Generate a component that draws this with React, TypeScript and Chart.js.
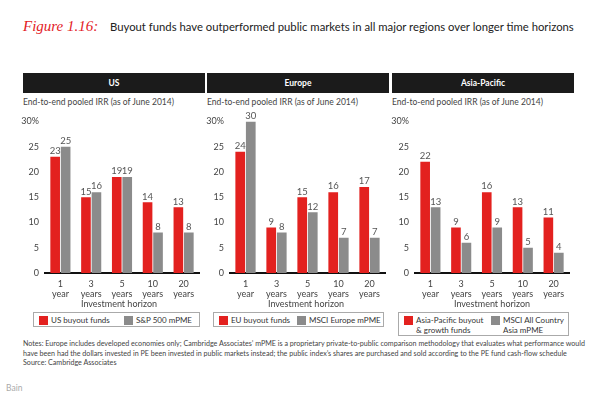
import React, { useEffect, useRef } from "react";
import { Chart, registerables } from "chart.js";

Chart.register(...registerables);

const horizons: string[][] = [["1", "year"], ["3", "years"], ["5", "years"], ["10", "years"], ["20", "years"]];
const yTicks = [0, 5, 10, 15, 20, 25, 30];

const usBuyout = [23, 15, 19, 14, 13];
const usPme = [25, 16, 19, 8, 8];
const euBuyout = [24, 9, 15, 16, 17];
const euPme = [30, 8, 12, 7, 7];
const apBuyout = [22, 9, 16, 13, 11];
const apPme = [13, 6, 9, 5, 4];

const regions = ["US", "Europe", "Asia-Pacific"];
const xAxisTitle = "Investment horizon";
const buyoutLabels = ["US buyout funds", "EU buyout funds", "Asia-Pacific buyout & growth funds"];
const pmeLabels = ["S&P 500 mPME", "MSCI Europe mPME", "MSCI All Country Asia mPME"];

const RED = "#e3211f";
const GRAY = "#8b8b8b";
const FONT = "Lato, 'Open Sans', sans-serif";

const valueLabels = {
  id: "valueLabels",
  afterDatasetsDraw(chart: any) {
    const ctx = chart.ctx;
    ctx.save();
    ctx.font = `9.5px ${FONT}`;
    ctx.fillStyle = "#555";
    ctx.textAlign = "center";
    ctx.textBaseline = "bottom";
    chart.data.datasets.forEach((ds: any, i: number) => {
      const meta = chart.getDatasetMeta(i);
      meta.data.forEach((bar: any, j: number) => {
        ctx.fillText(String(ds.data[j]), bar.x, bar.y - 1);
      });
    });
    ctx.restore();
  },
};

function Panel({ left, width, buyout, pme }: { left: number; width: number; buyout: number[]; pme: number[] }) {
  const ref = useRef<HTMLCanvasElement>(null);
  useEffect(() => {
    const chart = new Chart(ref.current!, {
      type: "bar",
      data: {
        labels: horizons,
        datasets: [
          { data: buyout, backgroundColor: RED, barPercentage: 0.92, categoryPercentage: 0.68 },
          { data: pme, backgroundColor: GRAY, barPercentage: 0.92, categoryPercentage: 0.68 },
        ],
      },
      options: {
        animation: false,
        responsive: false,
        maintainAspectRatio: false,
        layout: { padding: { top: 11, right: 3, bottom: 0, left: 0 } },
        plugins: { legend: { display: false }, tooltip: { enabled: false } },
        scales: {
          x: {
            grid: { display: false, drawTicks: false },
            border: { display: true, color: "#111", width: 2 },
            ticks: { color: "#444", font: { family: FONT, size: 9, lineHeight: 1.1 }, padding: 6, maxRotation: 0 },
            afterFit: (s: any) => { s.height = 28; },
          },
          y: {
            min: 0,
            max: 30,
            afterBuildTicks: (s: any) => { s.ticks = yTicks.map((v) => ({ value: v })); },
            grid: { display: false, drawTicks: false },
            border: { display: false },
            ticks: {
              color: "#444",
              font: { family: FONT, size: 9 },
              padding: 6,
              callback: (v: any) => (v === 30 ? "30%" : String(v)),
            },
            afterFit: (s: any) => { s.width = 25; },
          },
        },
      },
      plugins: [valueLabels],
    });
    return () => chart.destroy();
  }, []);
  return (
    <canvas
      ref={ref}
      width={width}
      height={191}
      style={{ position: "absolute", left, top: 110, width, height: 191 }}
    />
  );
}

const abs = (s: React.CSSProperties): React.CSSProperties => ({ position: "absolute", ...s });

export default function App() {
  useEffect(() => {
    document.body.style.margin = "0";
  }, []);
  const headerX = [23, 207, 392];
  const headerW = [182, 182, 182];
  const chartLeft = [20, 205, 390];
  const chartW = [182, 183, 182];
  const axisTitleCenter = [119, 306, 492];
  const series = [
    [usBuyout, usPme],
    [euBuyout, euPme],
    [apBuyout, apPme],
  ];
  const legendBox = [
    { left: 33, width: 167, height: 15, first: 85 },
    { left: 213, width: 171, height: 15, first: 78 },
    { left: 398, width: 171, height: 24, first: 87 },
  ];
  const sq: React.CSSProperties = { display: "inline-block", width: 9, height: 9, marginRight: 3, flex: "none", marginTop: 1 };
  return (
    <div style={abs({ left: 0, top: 0, width: 600, height: 404, background: "#fff", fontFamily: FONT, overflow: "hidden" })}>
      <div style={abs({ left: 23, top: 18, whiteSpace: "nowrap", display: "flex", alignItems: "baseline" })}>
        <span style={{ color: RED, fontFamily: "'Liberation Serif', serif", fontStyle: "italic", fontSize: 15, width: 87 }}>Figure 1.16:</span>
        <span style={{ color: "#222", fontSize: 11.3 }}>Buyout funds have outperformed public markets in all major regions over longer time horizons</span>
      </div>
      {regions.map((r, i) => (
        <React.Fragment key={r}>
          <div
            style={abs({
              left: headerX[i],
              top: 73,
              width: headerW[i],
              height: 20,
              background: "#1b1b1b",
              color: "#fff",
              fontWeight: 700,
              fontSize: 8.5,
              display: "flex",
              alignItems: "center",
              justifyContent: "center",
            })}
          >
            {r}
          </div>
          <div style={abs({ left: headerX[i], top: 97, fontSize: 8.5, color: "#444", whiteSpace: "nowrap" })}>
            End-to-end pooled IRR (as of June 2014)
          </div>
          <Panel left={chartLeft[i]} width={chartW[i]} buyout={series[i][0]} pme={series[i][1]} />
          <div
            style={abs({
              left: axisTitleCenter[i] - 50,
              width: 100,
              top: 299,
              textAlign: "center",
              fontSize: 9,
              lineHeight: "10px",
              color: "#444",
              whiteSpace: "nowrap",
            })}
          >
            {xAxisTitle}
          </div>
          <div
            style={abs({
              left: legendBox[i].left,
              top: 312,
              width: legendBox[i].width,
              height: legendBox[i].height,
              border: "1px solid #aaa",
              boxSizing: "border-box",
              display: "flex",
              alignItems: "flex-start",
              padding: "2px 5px",
              fontSize: 8,
              lineHeight: "10px",
              color: "#333",
              background: "#fff",
            })}
          >
            <div style={{ display: "flex", alignItems: "flex-start", width: legendBox[i].first, flex: "none" }}>
              <span style={{ ...sq, background: RED }} />
              <span style={{ whiteSpace: i === 2 ? "normal" : "nowrap", width: i === 2 ? 74 : undefined }}>{buyoutLabels[i]}</span>
            </div>
            <div style={{ display: "flex", alignItems: "flex-start" }}>
              <span style={{ ...sq, background: GRAY }} />
              <span style={{ whiteSpace: i === 2 ? "normal" : "nowrap", width: i === 2 ? 68 : undefined }}>{pmeLabels[i]}</span>
            </div>
          </div>
        </React.Fragment>
      ))}
      <div style={abs({ left: 23, top: 339, fontSize: 7.13, lineHeight: "9.6px", color: "#444", whiteSpace: "nowrap" })}>
        <div>
          Notes: Europe includes developed economies only; Cambridge Associates’ mPME is a proprietary private-to-public comparison methodology that evaluates what performance would
        </div>
        <div>
          have been had the dollars invested in PE been invested in public markets instead; the public index’s shares are purchased and sold according to the PE fund cash-flow schedule
        </div>
        <div>Source: Cambridge Associates</div>
      </div>
      <div style={abs({ left: 6, top: 383, fontSize: 8.5, color: "#aaa" })}>Bain</div>
    </div>
  );
}
